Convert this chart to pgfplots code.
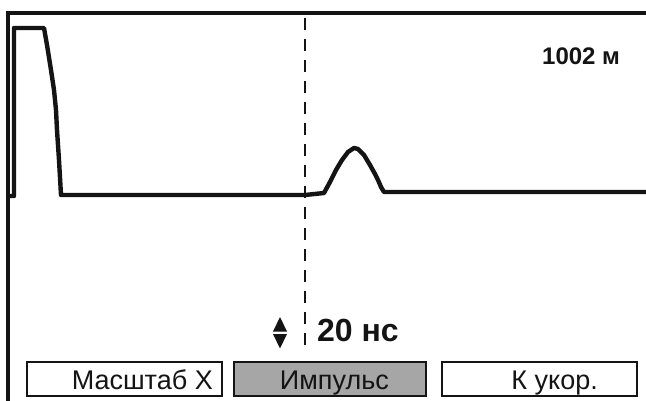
\documentclass[border=0pt]{standalone}
\usepackage{fontspec}
\setmainfont{Liberation Sans}
\usepackage{pgfplots}
\pgfplotsset{compat=1.18}
\definecolor{ink}{HTML}{141414}
\definecolor{btngray}{HTML}{A6A6A6}
\begin{document}
\begin{tikzpicture}[x=1pt,y=1pt]
\begin{axis}[
  scale only axis, width=646pt, height=401pt,
  xmin=0, xmax=646, ymin=0, ymax=401, y dir=reverse,
  hide axis, clip=false,
]
% frame
\addplot[ink, line width=3.2pt, line cap=rect] coordinates {(8,401) (8,13) (646,13)};
% signal
\addplot[ink, line width=4.4pt, line join=round] coordinates {
 (9,196) (14,196) (14,28) (44,28) (47,45) (51,70) (54,90) (56,110) (57,130) (59,160) (61,195)
 (305,195) (324,193) (330,182) (336,170) (342,160) (348,152) (354,148) (358,149)
 (364,155) (370,165) (375,174) (378,180) (381,187) (384,192) (646,192)};
% cursor
\addplot[ink, line width=2.8pt, dash pattern=on 12pt off 9pt] coordinates {(305,18) (305,346)};
% up/down arrows
\addplot[fill=ink, draw=none] coordinates {(273,331.5) (287,331.5) (280,317)} --cycle;
\addplot[fill=ink, draw=none] coordinates {(273,334) (287,334) (280,348.5)} --cycle;
% labels
\node[anchor=base west, font=\fontsize{24}{24}\selectfont\bfseries, text=ink, inner sep=0pt] at (axis cs:542,65) {1002 м};
\node[anchor=base west, font=\fontsize{32}{32}\selectfont\bfseries, text=ink, inner sep=0pt] at (axis cs:317,341) {20 нс};
% buttons
\draw[draw=ink, line width=2.3pt, fill=white] (axis cs:27,362) rectangle (axis cs:222,396);
\draw[draw=ink, line width=2.3pt, fill=btngray] (axis cs:234,362) rectangle (axis cs:426,396);
\draw[draw=ink, line width=2.3pt, fill=white] (axis cs:442,362) rectangle (axis cs:637,396);
\node[anchor=base east, font=\fontsize{27}{27}\selectfont, text=ink, inner sep=0pt] at (axis cs:213,389) {Масштаб X};
\node[anchor=base east, font=\fontsize{27}{27}\selectfont, text=ink, inner sep=0pt] at (axis cs:389,389) {Импульс};
\node[anchor=base east, font=\fontsize{27}{27}\selectfont, text=ink, inner sep=0pt] at (axis cs:598,389) {К укор.};
\end{axis}
\pgfresetboundingbox
\path[use as bounding box] (0,0) rectangle (646pt,401pt);
\end{tikzpicture}
\end{document}
